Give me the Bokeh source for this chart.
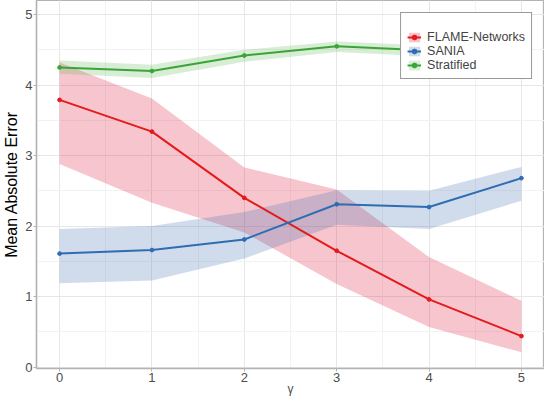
from bokeh.plotting import figure
from bokeh.models import Range1d, SingleIntervalTicker, Legend, LegendItem
from bokeh.embed import file_html
from bokeh.resources import INLINE

gamma = [0, 1, 2, 3, 4, 5]

flame_mean = [3.79, 3.34, 2.40, 1.65, 0.96, 0.44]
flame_upper = [4.32, 3.81, 2.83, 2.52, 1.56, 0.94]
flame_lower = [2.88, 2.33, 1.91, 1.18, 0.57, 0.21]

sania_mean = [1.61, 1.66, 1.81, 2.31, 2.27, 2.68]
sania_upper = [1.96, 2.00, 2.20, 2.51, 2.50, 2.84]
sania_lower = [1.19, 1.23, 1.54, 2.02, 1.96, 2.36]

strat_mean = [4.25, 4.20, 4.42, 4.55, 4.49, 4.90]
strat_upper = [4.35, 4.29, 4.50, 4.62, 4.56, 4.97]
strat_lower = [4.16, 4.10, 4.33, 4.47, 4.41, 4.83]

names = ["FLAME-Networks", "SANIA", "Stratified"]
line_colors = ["#E41A1C", "#2F6DB3", "#3CA437"]
fill_colors = ["#E01838", "#4373B3", "#5FB757"]

FONT = "Liberation Sans"

p = figure(width=544, height=398, output_backend="svg", toolbar_location=None,
           x_range=Range1d(-0.25, 5.25), y_range=Range1d(-0.02, 5.2),
           min_border_left=0, min_border_right=0, min_border_top=0, min_border_bottom=0)

p.background_fill_color = "white"
p.border_fill_color = "white"
p.outline_line_color = "#B3B3B3"
p.outline_line_width = 1.2

series = [
    (flame_mean, flame_upper, flame_lower),
    (sania_mean, sania_upper, sania_lower),
    (strat_mean, strat_upper, strat_lower),
]

areas = []
for (m, u, l), fc in zip(series, fill_colors):
    areas.append(p.varea(x=gamma, y1=l, y2=u, fill_color=fc, fill_alpha=0.25))

items = []
for (m, u, l), name, lc, a in zip(series, names, line_colors, areas):
    ln = p.line(gamma, m, line_color=lc, line_width=2)
    sc = p.scatter(gamma, m, size=3.8, fill_color=lc, line_color=lc)
    items.append(LegendItem(label=name, renderers=[a, ln, sc]))

for ax in (p.xaxis[0], p.yaxis[0]):
    ax.ticker = SingleIntervalTicker(interval=1, num_minor_ticks=2)
    ax.major_label_text_font = FONT
    ax.major_label_text_font_size = "13px"
    ax.major_label_text_color = "#4D4D4D"
    ax.axis_label_text_font = FONT
    ax.axis_label_text_font_style = "normal"
    ax.axis_line_color = "#B3B3B3"
    ax.axis_line_width = 1.5
    ax.major_tick_line_color = "#B3B3B3"
    ax.major_tick_out = 3
    ax.major_tick_in = 0
    ax.minor_tick_out = 0
    ax.minor_tick_in = 0
    ax.major_label_standoff = 1

p.xaxis.axis_label = "γ"
p.xaxis.axis_label_text_font_size = "12px"
p.xaxis.axis_label_text_color = "#4D4D4D"
p.xaxis.axis_label_standoff = -3
p.yaxis.axis_label = "Mean Absolute Error"
p.yaxis.axis_label_text_font_size = "16px"
p.yaxis.axis_label_text_color = "black"
p.yaxis.axis_label_standoff = 2

for g in (p.xgrid[0], p.ygrid[0]):
    g.ticker = SingleIntervalTicker(interval=1, num_minor_ticks=2)
    g.grid_line_color = "#E6E6E6"
    g.grid_line_width = 1
    g.minor_grid_line_color = "#F2F2F2"
    g.minor_grid_line_width = 1

legend = Legend(items=items, location="top_right")
legend.title = " "
legend.title_text_font_size = "6px"
legend.label_text_font = FONT
legend.label_text_font_size = "12.5px"
legend.label_height = 13
legend.glyph_height = 12
legend.glyph_width = 14
legend.spacing = 0
legend.padding = 6
legend.margin = 12
legend.border_line_color = "#333333"
legend.border_line_width = 1
legend.background_fill_alpha = 1
legend.label_standoff = 6
p.add_layout(legend, "center")

open("out.html", "w").write(file_html(p, INLINE))
